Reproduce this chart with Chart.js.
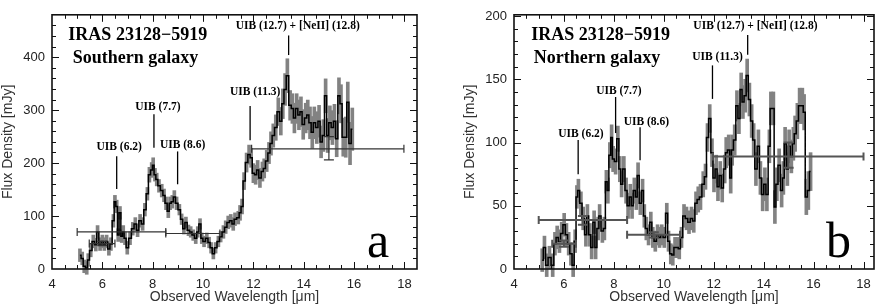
<!DOCTYPE html>
<html><head><meta charset="utf-8">
<script src="https://cdn.jsdelivr.net/npm/chart.js@4"></script>
<style>
html,body{margin:0;padding:0;background:#fff;}
#wrap{position:relative;width:881px;height:307px;overflow:hidden;background:#fff;}
#ca{position:absolute;left:0;top:0;}
#cb{position:absolute;left:440px;top:0;}
</style></head><body>
<div id="wrap">
<canvas id="ca" width="440" height="307"></canvas>
<canvas id="cb" width="441" height="307"></canvas>
</div>
<script>
// ---------- Panel a : Southern galaxy ----------
const waveA = [5.11,5.20,5.28,5.38,5.44,5.54,5.64,5.74,5.81,5.91,
6.00,6.08,6.17,6.26,6.34,6.44,6.50,6.57,6.63,6.70,
6.77,6.83,6.90,6.99,7.10,7.21,7.31,7.40,7.50,7.60,
7.69,7.79,7.87,7.96,8.02,8.09,8.16,8.25,8.36,8.45,
8.53,8.62,8.69,8.78,8.86,8.95,9.06,9.15,9.24,9.32,
9.42,9.51,9.61,9.71,9.79,9.88,9.95,10.04,10.15,10.24,
10.32,10.41,10.50,10.61,10.70,10.81,10.90,11.00,11.10,11.20,
11.27,11.40,11.47,11.55,11.63,11.73,11.83,11.91,12.00,12.09,
12.17,12.26,12.36,12.43,12.53,12.62,12.70,12.79,12.89,12.99,
13.09,13.17,13.26,13.35,13.46,13.55,13.63,13.72,13.81,13.89,
13.98,14.08,14.16,14.25,14.34,14.42,14.52,14.61,14.69,14.78,
14.87,14.95,15.04,15.14,15.22,15.31,15.40,15.48,15.57,15.67,
15.75,15.84,15.93];
const fluxA = [26,20,5,2,17,35,52,46,70,47,
52,47,52,38,47,91,127,118,64,106,
62,70,58,40,58,76,85,73,91,85,
112,142,178,187,196,178,169,157,148,139,
124,109,124,127,136,124,112,94,76,88,
73,70,64,58,70,85,58,52,58,50,
40,29,40,52,61,70,79,88,91,85,
94,97,106,118,166,201,216,210,181,178,
187,172,184,190,204,219,237,252,267,297,
279,312,339,365,309,303,285,303,291,297,
273,285,291,276,258,276,267,279,240,252,
327,252,276,267,279,246,327,312,249,249,
315,237,264];
const errA = [12,12,12,12,12,12,12,12,12,12,
12,12,12,12,12,12,12,12,12,12,
12,12,12,12,12,12,12,12,12,12,
12,12,14,14,14,12,12,12,12,12,
12,12,12,12,12,12,10,10,10,10,
10,10,10,10,10,10,10,10,10,10,
10,10,10,10,10,12,12,12,12,12,
12,12,14,14,16,18,18,18,18,18,
18,18,18,18,20,20,22,22,24,26,
26,28,30,32,28,28,28,28,28,28,
28,28,28,30,30,30,30,30,30,30,
32,32,32,32,32,34,34,36,36,38,
38,40,40];
// broadband photometry (centre, x-range, value, y-range)
const photA_x   = [6.76, 9.60, 6.00, 15.0];
const photA_xlo = [5.00, 8.52, 5.48, 11.93];
const photA_xhi = [8.52, 10.67, 6.50, 17.98];
const photA_y   = [70, 67, 48, 227];
const photA_ylo = [null, null, 44, 206];
const photA_yhi = [null, null, 52, 250];

// ---------- Panel b : Northern galaxy ----------
const waveB = [5.13,5.22,5.31,5.42,5.55,5.64,5.73,5.82,5.91,6.01,
6.10,6.19,6.28,6.37,6.45,6.52,6.58,6.68,6.77,6.88,
6.94,7.04,7.11,7.21,7.27,7.37,7.43,7.54,7.62,7.70,
7.76,7.84,7.91,7.97,8.07,8.16,8.24,8.31,8.40,8.49,
8.57,8.66,8.73,8.82,8.90,8.97,9.06,9.15,9.22,9.30,
9.39,9.48,9.56,9.66,9.75,9.83,9.92,10.02,10.12,10.19,
10.28,10.36,10.45,10.54,10.62,10.71,10.81,10.91,11.01,11.11,
11.20,11.29,11.38,11.47,11.58,11.67,11.75,11.84,11.93,12.01,
12.10,12.17,12.26,12.34,12.44,12.50,12.60,12.68,12.74,12.84,
12.93,13.01,13.10,13.17,13.26,13.34,13.43,13.52,13.60,13.69,
13.79,13.87,13.96,14.05,14.13,14.23,14.29,14.39,14.45,14.53,
14.62,14.72,14.79,14.86,14.95,15.02,15.11,15.19,15.26,15.35,
15.44,15.55,15.62,15.71,15.79,15.88];
const fluxB = [7,17,3,9,3,20,25,22,28,35,
27,20,12,3,22,57,62,52,40,27,
42,27,17,37,17,32,42,30,32,69,
62,90,104,87,85,103,79,67,79,62,
50,57,50,62,57,74,52,62,42,32,
27,37,25,22,27,25,27,25,44,22,
12,11,17,17,16,25,42,40,37,40,
38,52,55,57,67,73,104,119,92,72,
79,65,74,64,79,92,94,72,94,102,
129,119,142,132,137,153,134,117,102,79,
97,72,59,67,59,97,127,127,49,67,
82,62,72,99,79,97,89,99,107,117,
129,129,124,57,62,77];
const errB = [9,9,9,9,9,9,9,9,9,9,
9,9,9,9,9,9,9,9,9,9,
9,9,9,9,9,9,9,9,9,9,
10,10,10,10,10,10,10,10,10,10,
10,10,10,10,10,10,9,9,9,9,
8,8,8,8,8,8,8,8,8,8,
8,8,8,8,8,8,9,9,9,9,
9,9,10,10,10,10,11,11,11,11,
11,11,11,11,11,12,12,12,12,12,
12,12,13,13,13,13,13,13,13,13,
13,13,13,13,13,13,13,13,13,13,
13,13,13,13,13,13,13,13,14,14,
14,14,14,14,15,15];
const photB_x   = [6.76, 9.60, 6.00, 15.0];
const photB_xlo = [4.99, 8.53, 5.53, 11.97];
const photB_xhi = [8.53, 10.65, 6.48, 18.00];
const photB_y   = [38.7, 27, 20, 89];
const photB_ylo = [35, 25, 17.5, 80];
const photB_yhi = [42, 29, 22.5, 100];

// ---------- labels / ticks ----------
const uibLabels = ['UIB (6.2)', 'UIB (7.7)', 'UIB (8.6)', 'UIB (11.3)', 'UIB (12.7) + [NeII] (12.8)'];
const uibA_textX = [6.67, 8.21, 9.19, 12.07, 13.76];
const uibA_textY = [230, 306, 234, 335, 458];
const uibA_lineX = [6.57, 8.05, 8.99, 11.87, 13.40];
const uibA_lineY0 = [151, 229, 160, 243, 404];
const uibA_lineY1 = [213, 292, 222, 308, 441];
const uibB_textX = [6.68, 8.20, 9.30, 12.15, 13.67];
const uibB_textY = [107, 141, 116.5, 168, 192];
const uibB_lineX = [6.57, 8.07, 9.05, 11.95, 13.36];
const uibB_lineY0 = [75, 107.5, 86, 134.5, 169.5];
const uibB_lineY1 = [102, 136, 112, 161, 185];

const objectName = 'IRAS 23128\u22125919';
const panelNames = ['Southern galaxy', 'Northern galaxy'];
const panelLetters = ['a', 'b'];

const xTickLabels = [4, 6, 8, 10, 12, 14, 16, 18];
const yTickLabelsA = [0, 100, 200, 300, 400];
const yTickLabelsB = [0, 50, 100, 150, 200];

const xTitle = 'Observed Wavelength [\u03bcm]';
const yTitle = 'Flux Density [mJy]';

// ---------- drawing ----------
const framePlugin = {
  id: 'frame',
  afterDraw(chart, args, o) {
    const {ctx, chartArea: a, scales: {x, y}} = chart;
    ctx.save();
    ctx.strokeStyle = '#111';
    ctx.lineWidth = 1;
    const seg = (x0, y0, x1, y1) => { ctx.beginPath(); ctx.moveTo(x0, y0); ctx.lineTo(x1, y1); ctx.stroke(); };
    x.ticks.forEach(t => {
      if (t.value <= x.min || t.value >= x.max) return;
      const px = Math.round(x.getPixelForValue(t.value)) + 0.5;
      const len = o.xLabels.includes(t.value) ? 7 : 4;
      seg(px, a.bottom, px, a.bottom - len);
      seg(px, a.top, px, a.top + len);
    });
    y.ticks.forEach(t => {
      if (t.value <= y.min || t.value >= y.max) return;
      const py = Math.round(y.getPixelForValue(t.value)) + 0.5;
      const len = o.yLabels.includes(t.value) ? 7 : 4;
      seg(a.left, py, a.left + len, py);
      seg(a.right, py, a.right - len, py);
    });
    ctx.lineWidth = 1.6;
    ctx.strokeRect(a.left, a.top, a.right - a.left, a.bottom - a.top);

    // feature markers
    ctx.strokeStyle = '#000';
    ctx.lineWidth = 1.3;
    o.lineX.forEach((lx, i) => {
      const px = x.getPixelForValue(lx);
      seg(px, y.getPixelForValue(o.lineY0[i]), px, y.getPixelForValue(o.lineY1[i]));
    });
    ctx.fillStyle = '#000';
    ctx.textAlign = 'center';
    ctx.textBaseline = 'middle';
    ctx.font = 'bold 11.5px "Liberation Serif", serif';
    o.labels.forEach((s, i) => {
      ctx.fillText(s, x.getPixelForValue(o.textX[i]), y.getPixelForValue(o.textY[i]));
    });
    ctx.textAlign = 'left';
    ctx.textBaseline = 'alphabetic';
    ctx.font = 'bold 18px "Liberation Serif", serif';
    ctx.fillText(objectName, x.getPixelForValue(o.title[0]), y.getPixelForValue(o.title[1]));
    ctx.fillText(o.name, x.getPixelForValue(o.sub[0]), y.getPixelForValue(o.sub[1]));
    ctx.textAlign = 'center';
    ctx.font = '50px "Liberation Serif", serif';
    ctx.fillText(o.letter, x.getPixelForValue(o.let[0]), y.getPixelForValue(o.let[1]));
    ctx.restore();
  }
};

function makePanel(id, p) {
  const ds = [];
  ds.push({
    type: 'bar',
    data: p.wave.map((w, i) => ({x: w, y: [p.flux[i] - p.err[i], p.flux[i] + p.err[i]]})),
    backgroundColor: '#828282', borderWidth: 0, barThickness: 3, grouped: false,
    clip: false, order: 3
  });
  ds.push({
    type: 'line',
    data: p.wave.map((w, i) => ({x: w, y: p.flux[i]})),
    stepped: 'middle', borderColor: '#000', borderWidth: 1.5, pointRadius: 0, fill: false, order: 2
  });
  p.px.forEach((cx, i) => {
    ds.push({
      type: 'line',
      data: [{x: p.pxlo[i], y: p.py[i]}, {x: p.pxhi[i], y: p.py[i]}],
      borderColor: p.pcol, borderWidth: p.pw, pointStyle: 'line', pointRotation: 90,
      pointRadius: 4, pointBorderColor: p.pcol, pointBorderWidth: p.pw, order: 1
    });
    if (p.pylo[i] !== null) {
      ds.push({
        type: 'line',
        data: [{x: cx, y: p.pylo[i]}, {x: cx, y: p.pyhi[i]}],
        borderColor: p.pcol, borderWidth: p.pw, pointStyle: 'line', pointRotation: 0,
        pointRadius: 5, pointBorderColor: p.pcol, pointBorderWidth: p.pw, order: 1
      });
    }
  });
  const fam = '"Liberation Sans", Arial, sans-serif';
  return new Chart(document.getElementById(id), {
    type: 'line',
    data: {datasets: ds},
    plugins: [framePlugin],
    options: {
      responsive: false, animation: false, events: [],
      layout: {padding: {left: 0, right: p.padRight, top: 1, bottom: 0}},
      plugins: {
        legend: {display: false}, tooltip: {enabled: false},
        frame: p.frame
      },
      scales: {
        x: {
          type: 'linear', min: 4, max: p.xmax, offset: false,
          grid: {display: false, drawTicks: false, tickLength: 0}, border: {display: false},
          ticks: {
            stepSize: 0.5, autoSkip: false, maxRotation: 0, includeBounds: false,
            padding: 8, color: '#222', font: {family: fam, size: 13},
            callback: v => xTickLabels.includes(v) ? String(v) : ''
          },
          title: {display: true, text: xTitle, color: '#333', padding: {top: 0, bottom: 1},
                  font: {family: fam, size: 14}},
          afterFit: s => { s.height = 38; }
        },
        y: {
          type: 'linear', min: 0, max: p.ymax,
          grid: {display: false, drawTicks: false, tickLength: 0}, border: {display: false},
          ticks: {
            stepSize: p.ystep, autoSkip: false, includeBounds: false,
            padding: 7, color: '#222', font: {family: fam, size: 13},
            callback: v => p.yLabels.includes(v) ? String(v) : ''
          },
          title: {display: true, text: yTitle, color: '#333', padding: {top: p.yTitlePad, bottom: 0},
                  font: {family: fam, size: 14}},
          afterFit: s => { s.width = p.yWidth; }
        }
      }
    }
  });
}

makePanel('ca', {
  wave: waveA, flux: fluxA, err: errA,
  px: photA_x, pxlo: photA_xlo, pxhi: photA_xhi, py: photA_y, pylo: photA_ylo, pyhi: photA_yhi,
  pcol: '#333', pw: 1.2,
  xmax: 18.5, ymax: 480, ystep: 20, yLabels: yTickLabelsA,
  yWidth: 52, yTitlePad: 0, padRight: 23,
  frame: {
    xLabels: xTickLabels, yLabels: yTickLabelsA,
    labels: uibLabels, textX: uibA_textX, textY: uibA_textY,
    lineX: uibA_lineX, lineY0: uibA_lineY0, lineY1: uibA_lineY1,
    name: panelNames[0], letter: panelLetters[0],
    title: [4.65, 431.7], sub: [4.82, 389], let: [16.95, 22.6]
  }
});
makePanel('cb', {
  wave: waveB, flux: fluxB, err: errB,
  px: photB_x, pxlo: photB_xlo, pxhi: photB_xhi, py: photB_y, pylo: photB_ylo, pyhi: photB_yhi,
  pcol: '#555', pw: 2,
  xmax: 18.42, ymax: 201, ystep: 10, yLabels: yTickLabelsB,
  yWidth: 74, yTitlePad: 22, padRight: 4,
  frame: {
    xLabels: xTickLabels, yLabels: yTickLabelsB,
    labels: uibLabels, textX: uibB_textX, textY: uibB_textY,
    lineX: uibB_lineX, lineY0: uibB_lineY0, lineY1: uibB_lineY1,
    name: panelNames[1], letter: panelLetters[1],
    title: [4.69, 180.8], sub: [4.79, 162.5], let: [17.0, 9.5]
  }
});
</script>
</body></html>
